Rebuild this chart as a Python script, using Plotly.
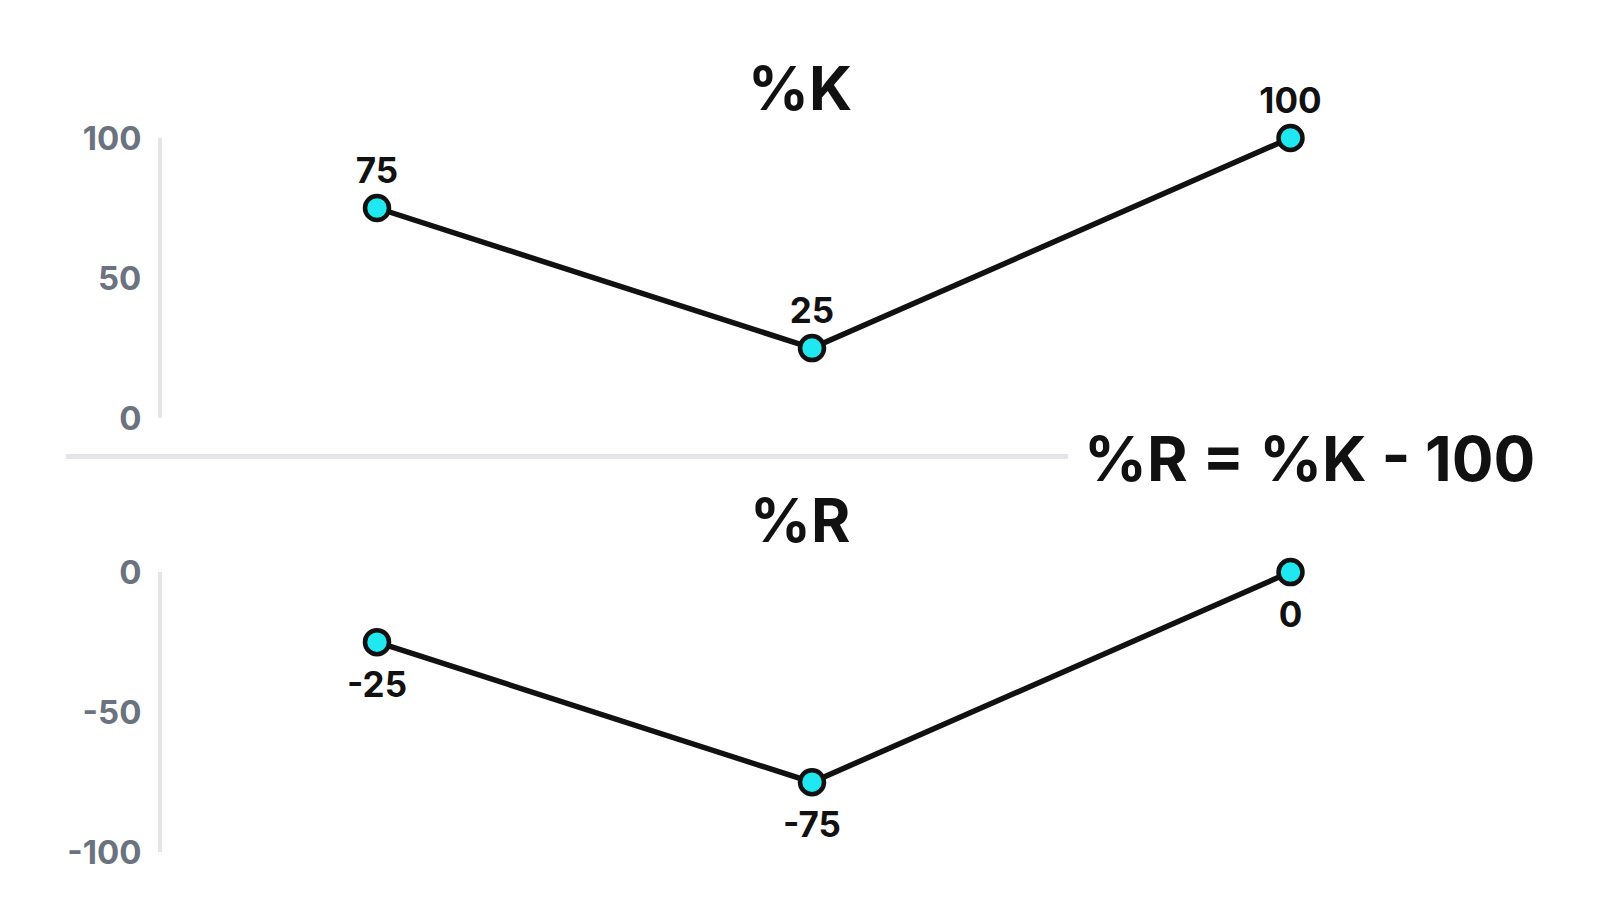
import plotly.graph_objects as go

# point positions (the third step is a little wider in the picture)
steps = [0, 1, 2.1]
k_values = [75, 25, 100]
r_values = [-25, -75, 0]
k_ticks = [0, 50, 100]
k_tick_labels = ["0", "50", "100"]
r_ticks = [-100, -50, 0]
r_tick_labels = ["-100", "-50", "0"]

W, H = 1600, 914
cyan = "#1FE8F0"
gray_axis = "#E3E5E8"
gray_text = "#6B7280"
font_family = "Inter, 'Open Sans', sans-serif"
label_font = dict(family=font_family, size=35, color="#111111", weight=700)


def py(pix):
    return 1 - pix / H


def px(pix):
    return pix / W


fig = go.Figure()

# %K panel: labels above the points
fig.add_trace(go.Scatter(
    x=steps, y=k_values, xaxis="x", yaxis="y",
    mode="lines+markers+text",
    text=[str(v) for v in k_values], textposition="top center", textfont=label_font,
    line=dict(color="#111111", width=5.5),
    marker=dict(size=24, color=cyan, line=dict(color="#111111", width=4.5)),
    cliponaxis=False, hoverinfo="skip",
))

# %R panel: line and markers, labels below via a second (invisible-marker) trace
fig.add_trace(go.Scatter(
    x=steps, y=r_values, xaxis="x2", yaxis="y2",
    mode="lines+markers",
    line=dict(color="#111111", width=5.5),
    marker=dict(size=24, color=cyan, line=dict(color="#111111", width=4.5)),
    cliponaxis=False, hoverinfo="skip",
))
fig.add_trace(go.Scatter(
    x=steps, y=r_values, xaxis="x2", yaxis="y2",
    mode="markers+text",
    text=[str(v) for v in r_values], textposition="bottom center", textfont=label_font,
    marker=dict(size=44, color="rgba(0,0,0,0)"),
    cliponaxis=False, hoverinfo="skip",
))

# x: plot starts at the axis line, first point 215 px to its right, 435 px per step
x0 = 154
scale = 435
xmin = -(369 - x0) / scale
xmax = xmin + (W - x0) / scale
xaxis_style = dict(range=[xmin, xmax], domain=[px(x0), 1], visible=False, fixedrange=True)

yaxis_style = dict(
    showline=True, linecolor=gray_axis, linewidth=4,
    showgrid=False, zeroline=False, ticks="",
    ticklabelstandoff=10,
    tickfont=dict(family=font_family, size=33, color=gray_text, weight=700),
    fixedrange=True,
)

fig.update_layout(
    width=W, height=H,
    margin=dict(l=0, r=0, t=0, b=0),
    paper_bgcolor="white", plot_bgcolor="white",
    showlegend=False,
    xaxis=xaxis_style,
    xaxis2=dict(xaxis_style, anchor="y2"),
    yaxis=dict(yaxis_style, range=[0, 100], tickvals=k_ticks, ticktext=k_tick_labels,
               domain=[py(408), py(115)], anchor="x"),
    yaxis2=dict(yaxis_style, range=[-100, 0], tickvals=r_ticks, ticktext=r_tick_labels,
                domain=[py(862), py(569)], anchor="x2"),
)

# separator between the two panels
fig.add_shape(type="line", xref="paper", yref="paper",
              x0=px(58), x1=px(1060), y0=py(448), y1=py(448),
              line=dict(color=gray_axis, width=5))

title_font = dict(family=font_family, size=62, color="#111111", weight=700)
for txt, cx, cy, size in [("%K", 792, 63, 60),
                          ("%R", 792, 515, 60),
                          ("%R = %K - 100", 1301, 450, 62)]:
    fig.add_annotation(text=txt, x=px(cx), y=py(cy), xref="paper", yref="paper",
                       xanchor="center", yanchor="middle",
                       showarrow=False, font=dict(title_font, size=size))

fig.write_html("out.html")
